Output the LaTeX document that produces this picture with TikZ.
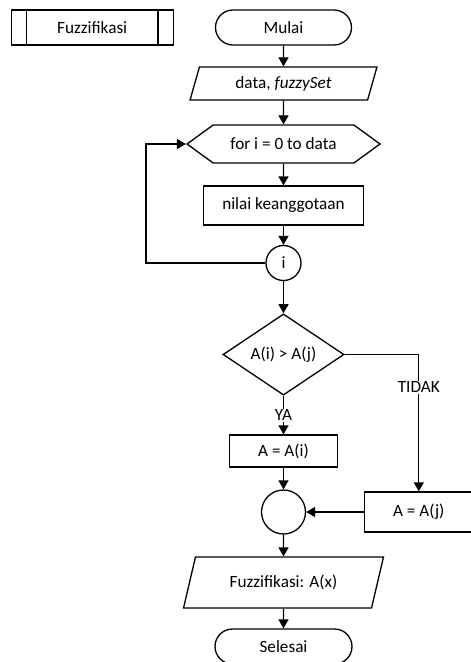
\documentclass[tikz,border=0pt]{standalone}
\usepackage{fontspec}
\setmainfont{Carlito}
\usepackage{tikz}
\usetikzlibrary{positioning,arrows.meta,shapes.misc,shapes.geometric,shapes.symbols}
\tikzset{
  base/.style={draw=black,line width=1.3pt,fill=white,align=center,inner sep=0pt,
               font=\fontsize{17.2}{19}\selectfont},
  term/.style={base,rounded rectangle,minimum width=#1,minimum height=35pt},
  term/.default=136pt,
  proc/.style={base,rectangle,minimum width=#1},
  proc/.default=108pt,
  io/.style={base,trapezium,trapezium stretches=true},
  loophex/.style={base,signal,signal to=east and west,signal pointer angle=72,
                  minimum width=193pt,minimum height=38pt},
  dec/.style={base,diamond,minimum width=121pt,minimum height=75pt},
  conn/.style={base,circle,minimum size=#1},
  conn/.default=35pt,
  flow/.style={-{Triangle[length=9pt,width=10pt]},draw=black,line width=1.3pt},
  lbl/.style={fill=white,inner sep=1pt,font=\fontsize{17.2}{19}\selectfont},
}
\begin{document}
\begin{tikzpicture}[x=1pt,y=1pt]
  \useasboundingbox (0,0) rectangle (471,-662);
  \node[term] (mulai) at (283.5,-27.5) {Mulai};
  \node[proc=162pt, minimum height=35pt, left=41pt of mulai] (fuzz) {Fuzzifikasi};
  \draw[line width=1.3pt] ([xshift=16pt]fuzz.north west) -- ([xshift=16pt]fuzz.south west);
  \draw[line width=1.3pt] ([xshift=-16pt]fuzz.north east) -- ([xshift=-16pt]fuzz.south east);
  \node[io, trapezium left angle=70, trapezium right angle=110, minimum width=187pt, minimum height=33pt]
       (input) at (283.5,-83.5) {data, \textit{fuzzySet}};
  \node[loophex] (forloop) at (283.5,-144) {for i = 0 to data};
  \node[proc=160pt, minimum height=39pt] (nilai) at (283.5,-205.5) {nilai keanggotaan};
  \node[conn] (iconn) at (283.5,-263) {i};
  \node[dec] (cek) at (283.5,-354.5) {A(i) > A(j)};
  \node[proc, minimum height=32pt] (ai) at (283.5,-451) {A = A(i)};
  \node[conn=44pt] (gabung) at (283.5,-512) {};
  \node[proc, minimum height=40pt, right=58pt of gabung] (aj) {A = A(j)};
  \node[io, trapezium left angle=64, trapezium right angle=116, minimum width=200pt, minimum height=51pt]
       (output) at (283.5,-582.5) {Fuzzifikasi: A(x)};
  \node[term=137pt] (selesai) at (283.5,-646.5) {Selesai};
  \draw[flow] (mulai) -- (input);
  \draw[flow] (input) -- (forloop);
  \draw[flow] (forloop) -- (nilai);
  \draw[flow] (nilai) -- (iconn);
  \draw[flow] (iconn.west) -| ([xshift=-40pt]forloop.west) |- (forloop.west);
  \draw[flow] (iconn) -- (cek);
  \draw[flow] (cek) -- node[lbl] {YA} (ai);
  \draw[flow] (cek.east) -| node[lbl, pos=0.62] {TIDAK} (aj.north);
  \draw[flow] (ai) -- (gabung);
  \draw[flow] (aj) -- (gabung);
  \draw[flow] (gabung) -- (output);
  \draw[flow] (output) -- (selesai);
\end{tikzpicture}
\end{document}
